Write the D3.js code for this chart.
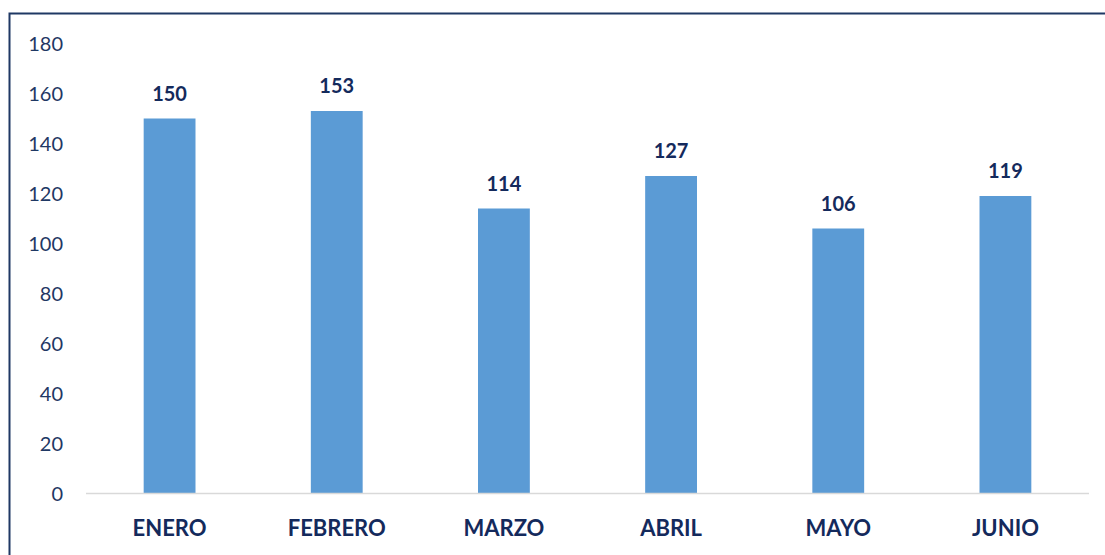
<!DOCTYPE html>
<meta charset="utf-8">
<style>
body { margin: 0; background: #fff; }
text { font-family: Lato, "Open Sans", sans-serif; }
.tick text { fill: #1f3864; font-size: 20px; }
.label { fill: #142a5c; font-size: 20px; font-weight: bold; }
.cat { fill: #142a5c; font-size: 22px; font-weight: bold; }
</style>
<svg width="1105" height="555"></svg>
<script src="https://d3js.org/d3.v7.min.js"></script>
<script>
var months = ["ENERO", "FEBRERO", "MARZO", "ABRIL", "MAYO", "JUNIO"];
var values = [150, 153, 114, 127, 106, 119];
var yTicks = [0, 20, 40, 60, 80, 100, 120, 140, 160, 180];

var svg = d3.select("svg");

// outer frame (only top and left visible in the original)
svg.append("rect")
    .attr("x", 9.5).attr("y", 13.5)
    .attr("width", 1200).attr("height", 600)
    .attr("fill", "none")
    .attr("stroke", "#1f3864")
    .attr("stroke-width", 2);

var x = d3.scaleBand().domain(months).range([86, 1089]).paddingInner(0.69).paddingOuter(0.345);
var y = d3.scaleLinear().domain([0, 180]).range([493.5, 43.5]);

var yAxis = svg.append("g")
    .attr("transform", "translate(63,0)")
    .call(d3.axisLeft(y).tickValues(yTicks).tickSize(0).tickPadding(0));
yAxis.select(".domain").remove();
yAxis.selectAll(".tick text").attr("dy", "0.35em");

svg.selectAll(".bar")
    .data(values)
    .enter().append("rect")
    .attr("class", "bar")
    .attr("x", function(d, i) { return x(months[i]); })
    .attr("y", function(d) { return y(d); })
    .attr("width", x.bandwidth())
    .attr("height", function(d) { return y(0) - y(d); })
    .attr("fill", "#5b9bd5");

svg.append("line")
    .attr("x1", 86).attr("x2", 1089)
    .attr("y1", y(0)).attr("y2", y(0))
    .attr("stroke", "#d9d9d9")
    .attr("stroke-width", 1.5);

svg.selectAll(".label")
    .data(values)
    .enter().append("text")
    .attr("class", "label")
    .attr("x", function(d, i) { return x(months[i]) + x.bandwidth() / 2; })
    .attr("y", function(d) { return y(d) - 18; })
    .attr("text-anchor", "middle")
    .text(function(d) { return d; });

svg.selectAll(".cat")
    .data(months)
    .enter().append("text")
    .attr("class", "cat")
    .attr("x", function(d) { return x(d) + x.bandwidth() / 2; })
    .attr("y", 536)
    .attr("text-anchor", "middle")
    .text(function(d) { return d; });
</script>
